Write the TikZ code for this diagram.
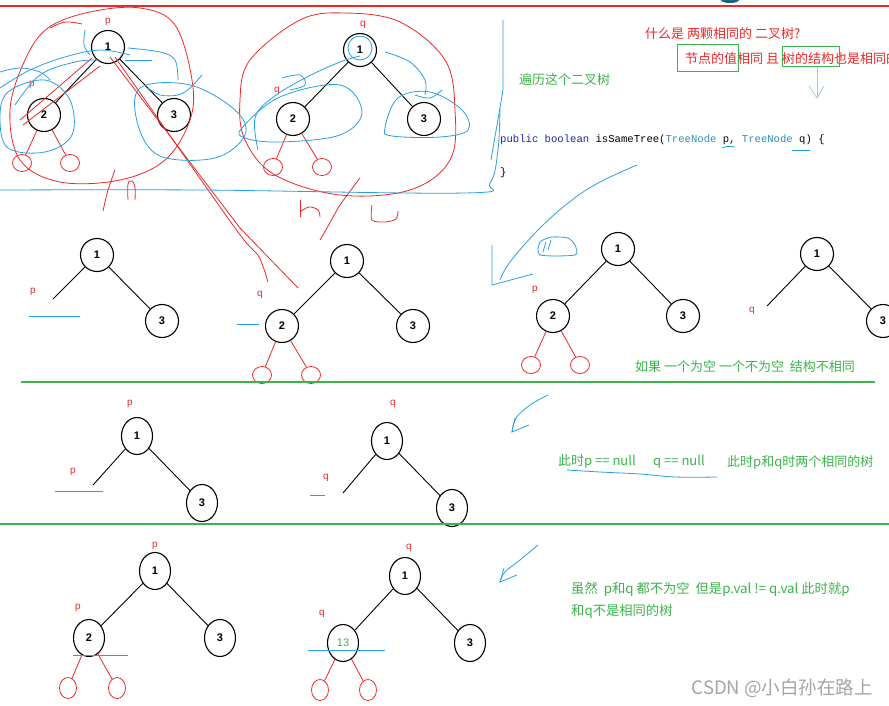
\documentclass[tikz,border=0pt]{standalone}
\usepackage{fontspec}
\setmainfont{Liberation Sans}
\newfontfamily\cjk{Noto Sans CJK SC}
\newfontfamily\codefont{Liberation Mono}
\usetikzlibrary{shapes.geometric}
\definecolor{hred}{RGB}{238,40,40}
\definecolor{hgreen}{RGB}{60,180,75}
\definecolor{hblue}{RGB}{40,160,225}
\definecolor{kw}{RGB}{30,40,170}
\definecolor{ty}{RGB}{43,145,175}
\definecolor{wm}{RGB}{165,165,165}
\begin{document}
\begin{tikzpicture}[x=1pt,y=-1pt,
  tnode/.style={circle,draw,line width=1.1pt,minimum size=33pt,inner sep=0pt,font=\bfseries\fontsize{11}{11}\selectfont},
  enode/.style={ellipse,draw,line width=1.1pt,minimum width=31pt,minimum height=37pt,inner sep=0pt,font=\bfseries\fontsize{11}{11}\selectfont},
  tedge/.style={line width=0.9pt},
  redc/.style={ellipse,draw=hred,line width=0.8pt,minimum width=19pt,minimum height=17pt,inner sep=0pt},
  redct/.style={ellipse,draw=hred,line width=0.8pt,minimum width=17pt,minimum height=21pt,inner sep=0pt},
  redl/.style={draw=hred,line width=0.8pt},
  bluel/.style={draw=hblue,line width=0.8pt},
  greenl/.style={draw=hgreen,line width=1.2pt},
  lab/.style={text=hred,font=\fontsize{10}{10}\selectfont,inner sep=0pt},
  redtxt/.style={text=hred,font=\cjk\fontsize{13}{13}\selectfont,inner sep=0pt,anchor=west},
  greentxt/.style={text=hgreen,font=\cjk\fontsize{13}{13}\selectfont,inner sep=0pt,anchor=west},
  gbox/.style={draw=hgreen,line width=1pt}
]
\useasboundingbox (0,0) rectangle (889,706);
\fill[white] (0,0) rectangle (889,706);

% ===== top lines =====
\draw[draw=hred,line width=1.2pt] (0,6) -- (889,6);
\fill[ty!70!black] (730,0) ellipse (9 and 3);

% ===== row 1, left tree =====
\node[tnode] (a1) at (108,47) {1};
\node[tnode] (a2) at (44,115) {2};
\node[tnode] (a3) at (174,115) {3};
\draw[tedge] (a1) -- (a2);
\draw[tedge] (a1) -- (a3);
\node[redc] (a4) at (22,163) {};
\node[redc] (a5) at (70,163) {};
\draw[redl] (a2) -- (a4);
\draw[redl] (a2) -- (a5);
\node[lab] (ap) at (108,22) {p};
\node[lab] (ap2) at (32,85) {p};

% ===== row 1, right tree =====
\node[tnode] (b1) at (360,50) {1};
\node[tnode] (b2) at (293,119) {2};
\node[tnode] (b3) at (424,119) {3};
\draw[tedge] (b1) -- (b2);
\draw[tedge] (b1) -- (b3);
\node[redc] (b4) at (273,167) {};
\node[redc] (b5) at (322,167) {};
\draw[redl] (b2) -- (b4);
\draw[redl] (b2) -- (b5);
\node[lab] (bq) at (363,25) {q};
\node[lab] (bq2) at (277,91) {q};

% ----- red scribbles row 1 -----
\draw[redl] plot[smooth cycle,tension=0.6] coordinates {(48,28) (90,12) (140,8) (175,25) (192,80) (190,120) (165,160) (120,180) (60,182) (20,160) (10,110) (25,60)};
\draw[redl] plot[smooth,tension=0.6] coordinates {(50,28) (65,22) (82,24)};
\draw[redl] plot[smooth cycle,tension=0.6] coordinates {(250,60) (300,20) (345,13) (400,22) (445,60) (455,110) (450,160) (410,190) (340,195) (275,175) (245,140) (240,100)};
\draw[redl] (92,58) -- (20,120);
\draw[redl] (100,66) -- (23,125);
\draw[redl] (110,57) -- (240,228) -- (298,288);
\draw[redl] plot[smooth,tension=0.5] coordinates {(115,57) (235,228) (258,255) (268,282)};
\draw[redl] plot[smooth,tension=0.6] coordinates {(115,170) (108,190) (103,211)};
\draw[redl] plot[smooth,tension=0.6] coordinates {(128,200) (128,184) (132,181) (135,187) (135,200)};
\draw[redl] (300,200) -- (300,217);
\draw[redl] plot[smooth,tension=0.6] coordinates {(300,212) (309,207) (318,210) (320,217)};
\draw[redl] plot[smooth,tension=0.4] coordinates {(360,178) (340,205) (327,228) (320,240)};
\draw[redl] plot[smooth,tension=0.5] coordinates {(372,205) (372,220) (385,222) (396,219) (398,211)};

% ----- blue scribbles row 1 -----
\draw[bluel] plot[smooth cycle,tension=0.6] coordinates {(8,92) (45,80) (70,100) (72,135) (45,152) (8,148) (0,118)};
\draw[bluel] plot[smooth,tension=0.6] coordinates {(0,72) (20,68) (40,72) (50,80)};
\draw[bluel] plot[smooth,tension=0.6] coordinates {(0,88) (30,70) (65,57) (100,50) (130,55)};
\draw[bluel] plot[smooth,tension=0.6] coordinates {(15,105) (40,75) (75,62) (100,60)};
\draw[bluel] plot[smooth,tension=0.6] coordinates {(85,30) (84,45) (90,55)};
\draw[bluel] plot[smooth,tension=0.6] coordinates {(128,48) (160,52) (175,60) (178,80)};
\draw[bluel] (125,60) -- (152,60);
\draw[bluel] plot[smooth cycle,tension=0.6] coordinates {(140,88) (190,85) (235,110) (245,135) (215,158) (160,156) (138,125)};
\draw[bluel] plot[smooth,tension=0.6] coordinates {(148,88) (160,95) (178,95) (190,88) (202,75)};
\draw[bluel] plot[smooth cycle,tension=0.6] coordinates {(242,128) (280,97) (340,85) (362,112) (340,135) (280,142) (245,138)};
\draw[bluel] plot[smooth,tension=0.6] coordinates {(258,150) (255,118) (272,98) (305,78) (340,62) (360,56)};
\draw[bluel] plot[smooth,tension=0.6] coordinates {(282,78) (300,75) (305,85) (290,90)};
\draw[bluel] (360,48) circle (12);
\draw[bluel] plot[smooth cycle,tension=0.6] coordinates {(385,128) (398,98) (430,92) (462,110) (468,130) (440,137) (392,136)};
\draw[bluel] plot[smooth,tension=0.6] coordinates {(385,52) (410,62) (425,80) (425,95)};
\draw[bluel] plot[smooth,tension=0.6] coordinates {(415,95) (430,98) (442,90)};
\draw[bluel] plot[smooth,tension=0.6] coordinates {(0,190) (200,190) (465,193) (490,183) (498,150) (500,108)};
\draw[bluel] (503,20) -- (503,90) -- (491,160);

% ===== right texts row 1 =====
\node[redtxt] (t1) at (645,34) {什么是 两颗相同的 二叉树?};
\node[redtxt] (t2) at (685,59) {节点的值相同 且 树的结构也是相同的};
\draw[gbox] (677,45) rectangle (738,72);
\draw[gbox] (782,47) rectangle (839,67);
\coordinate (ga1) at (817,67);
\coordinate (ga2) at (817,98);
\draw[draw=hgreen!50,line width=0.8pt] (ga1) -- (ga2);
\draw[draw=hgreen!50,line width=0.8pt] (809,86) -- (ga2) -- (824,86);
\node[greentxt] (t3) at (519,80) {遍历这个二叉树};
\node[anchor=west,inner sep=0pt,font=\codefont\fontsize{10.6}{10.6}\selectfont] (code) at (500,140)
  {\textcolor{kw}{public} \textcolor{kw}{boolean} isSameTree(\textcolor{ty}{TreeNode} p, \textcolor{ty}{TreeNode} q) \{};
\node[anchor=west,inner sep=0pt,font=\codefont\fontsize{10.6}{10.6}\selectfont] (code2) at (500,173) {\}};
\draw[bluel] (722,148) .. controls (728,146) .. (735,147);
\draw[bluel] (792,150) -- (810,150);

% blue big arrow
\draw[bluel] plot[smooth,tension=0.6] coordinates {(637,165) (600,182) (572,200) (540,228) (510,262) (500,280)};
\draw[bluel] (492,245) -- (492,285) -- (533,274);
\draw[bluel] plot[smooth cycle,tension=0.4] coordinates {(540,242) (552,237) (568,238) (575,245) (575,255) (540,255)};
\draw[bluel] (546,242) -- (543,252);
\draw[bluel] (551,240) -- (548,250);

% ===== row 2 =====
\node[tnode] (c1) at (97,255) {1};
\node[tnode] (c3) at (162,321) {3};
\coordinate (cx) at (53,299);
\draw[tedge] (c1) -- (cx);
\draw[tedge] (c1) -- (c3);
\node[lab] (cp) at (33,292) {p};
\draw[bluel] (29,316) -- (80,316);

\node[tnode] (d1) at (347,261) {1};
\node[tnode] (d2) at (282,326) {2};
\node[tnode] (d3) at (413,326) {3};
\draw[tedge] (d1) -- (d2);
\draw[tedge] (d1) -- (d3);
\node[redc] (d4) at (262,375) {};
\node[redc] (d5) at (311,375) {};
\draw[redl] (d2) -- (d4);
\draw[redl] (d2) -- (d5);
\node[lab] (dq) at (260,295) {q};
\draw[bluel] (237,324) -- (259,324);

\node[tnode] (e1) at (618,249) {1};
\node[tnode] (e2) at (553,316) {2};
\node[tnode] (e3) at (683,316) {3};
\draw[tedge] (e1) -- (e2);
\draw[tedge] (e1) -- (e3);
\node[redc] (e4) at (531,365) {};
\node[redc] (e5) at (580,365) {};
\draw[redl] (e2) -- (e4);
\draw[redl] (e2) -- (e5);
\node[lab] (ep) at (535,290) {p};

\node[tnode] (f1) at (817,254) {1};
\node[tnode] (f3) at (883,321) {3};
\coordinate (fx) at (767,306);
\draw[tedge] (f1) -- (fx);
\draw[tedge] (f1) -- (f3);
\node[lab] (fq) at (752,311) {q};

\node[greentxt] (t4) at (635,367) {如果 一个为空 一个不为空\ \ 结构不相同};
\draw[greenl] (21,382) -- (875,382);

% ===== row 3 =====
\node[enode] (g1) at (137,436) {1};
\node[enode] (g3) at (202,503) {3};
\coordinate (gx) at (93,485);
\draw[tedge] (g1) -- (gx);
\draw[tedge] (g1) -- (g3);
\node[lab] (gp) at (130,404) {p};
\node[lab] (gp2) at (73,472) {p};
\draw[bluel] (55,491) -- (103,491);

\node[enode] (h1) at (387,441) {1};
\node[enode] (h3) at (452,508) {3};
\coordinate (hx) at (343,493);
\draw[tedge] (h1) -- (hx);
\draw[tedge] (h1) -- (h3);
\node[lab] (hq) at (393,404) {q};
\node[lab] (hq2) at (326,478) {q};
\draw[bluel] (310,495) -- (325,495);

\draw[bluel] plot[smooth,tension=0.6] coordinates {(548,395) (530,405) (516,418) (512,432)};
\draw[bluel] (515,418) -- (512,432) -- (529,425);
\node[greentxt] (t5a) at (558,462) {此时p == null};
\node[greentxt] (t5b) at (653,462) {q == null};
\node[greentxt] (t5c) at (727,462) {此时p和q时两个相同的树};
\draw[bluel] plot[smooth,tension=0.6] coordinates {(567,470) (600,472) (640,474) (675,477) (717,477)};
\draw[greenl] (0,524) -- (889,524);

% ===== row 4 =====
\node[enode] (i1) at (155,571) {1};
\node[enode] (i2) at (89,638) {2};
\node[enode] (i3) at (220,638) {3};
\draw[tedge] (i1) -- (i2);
\draw[tedge] (i1) -- (i3);
\node[redct] (i4) at (68,688) {};
\node[redct] (i5) at (117,688) {};
\draw[redl] (i2) -- (i4);
\draw[redl] (i2) -- (i5);
\node[lab] (ip) at (155,546) {p};
\node[lab] (ip2) at (78,608) {p};
\draw[bluel] (73,655) -- (128,655);

\node[enode,text=hgreen,font=\fontsize{11}{11}\selectfont] (j2) at (343,643) {13};
\node[enode] (j1) at (405,576) {1};
\node[enode] (j3) at (470,643) {3};
\draw[tedge] (j1) -- (j2);
\draw[tedge] (j1) -- (j3);
\node[redct] (j4) at (320,690) {};
\node[redct] (j5) at (368,690) {};
\draw[redl] (j2) -- (j4);
\draw[redl] (j2) -- (j5);
\node[lab] (jq) at (409,548) {q};
\node[lab] (jq2) at (322,614) {q};
\draw[bluel] (308,650) -- (385,650);

\draw[bluel] plot[smooth,tension=0.6] coordinates {(538,545) (520,560) (505,572) (500,582)};
\draw[bluel] (504,568) -- (500,582) -- (517,575);
\node[greentxt,font=\cjk\fontsize{13.3}{13.3}\selectfont] (t6) at (571,589) {虽然\ \ p和q 都不为空\ \ 但是p.val != q.val 此时就p};
\node[greentxt,font=\cjk\fontsize{13.3}{13.3}\selectfont] (t7) at (571,611) {和q不是相同的树};

\node[anchor=east,inner sep=0pt,text=wm,font=\cjk\fontsize{18.5}{18.5}\selectfont] (wmk) at (873,688) {CSDN @小白孙在路上};
\end{tikzpicture}
\end{document}
